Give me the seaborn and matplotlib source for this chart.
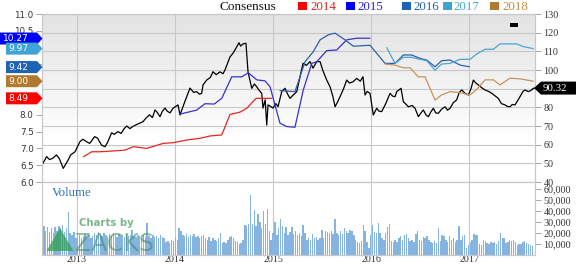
import numpy as np
import pandas as pd
import matplotlib
matplotlib.use('Agg')
import matplotlib.pyplot as plt
import seaborn as sns
from matplotlib.patches import Polygon, Rectangle

# ---------------- data ----------------
years = [2013, 2014, 2015, 2016, 2017]

price_t = [2012.643, 2012.69, 2012.72, 2012.755, 2012.79, 2012.82, 2012.86, 2012.91, 2012.935, 2012.98,
           2013.03, 2013.06, 2013.10, 2013.13, 2013.18, 2013.21, 2013.25, 2013.285, 2013.31, 2013.354,
           2013.38, 2013.418, 2013.45, 2013.48, 2013.507, 2013.54, 2013.571, 2013.61, 2013.673, 2013.70,
           2013.74, 2013.77, 2013.796, 2013.82, 2013.847, 2013.87, 2013.898, 2013.92, 2013.949, 2013.98,
           2014.031, 2014.051, 2014.10, 2014.153, 2014.19, 2014.221, 2014.25, 2014.272, 2014.286, 2014.323,
           2014.36, 2014.388, 2014.42, 2014.459, 2014.49, 2014.51, 2014.561, 2014.592, 2014.62, 2014.653,
           2014.67, 2014.694, 2014.724, 2014.745, 2014.783, 2014.81, 2014.834, 2014.86, 2014.885, 2014.898,
           2014.92, 2014.936, 2014.949, 2014.975, 2015.0, 2015.03, 2015.051, 2015.089, 2015.122, 2015.15,
           2015.173, 2015.21, 2015.242, 2015.306, 2015.34, 2015.378, 2015.408, 2015.446, 2015.48, 2015.51,
           2015.548, 2015.582, 2015.61, 2015.633, 2015.66, 2015.684, 2015.72, 2015.752, 2015.78, 2015.816,
           2015.854, 2015.89, 2015.918, 2015.939, 2015.96, 2015.99, 2016.023, 2016.058, 2016.08, 2016.109,
           2016.15, 2016.194, 2016.22, 2016.245, 2016.262, 2016.306, 2016.33, 2016.36, 2016.38, 2016.42,
           2016.449, 2016.483, 2016.51, 2016.534, 2016.56, 2016.585, 2016.61, 2016.636, 2016.66, 2016.687,
           2016.72, 2016.755, 2016.78, 2016.806, 2016.84, 2016.874, 2016.90, 2016.926, 2016.96, 2016.993,
           2017.02, 2017.044, 2017.07, 2017.095, 2017.13, 2017.163, 2017.2, 2017.232, 2017.27, 2017.299,
           2017.33, 2017.367, 2017.39, 2017.418, 2017.44, 2017.469, 2017.50, 2017.52, 2017.55, 2017.571,
           2017.605, 2017.63, 2017.656, 2017.673]
price_v = [49.1, 53.6, 52.0, 52.8, 54.5, 52.5, 47.3, 51.8, 54.5, 56.2,
           61.6, 62.9, 61.5, 60.7, 64.3, 63.5, 59.8, 58.9, 61.0, 66.4,
           65.5, 67.0, 66.0, 68.5, 70.0, 68.6, 69.8, 70.8, 72.3, 74.0,
           76.0, 74.5, 78.6, 77.2, 75.0, 77.8, 79.6, 78.0, 77.0, 79.5,
           81.3, 75.9, 83.0, 90.3, 88.0, 88.4, 87.0, 87.5, 92.0, 94.6,
           96.0, 99.1, 97.5, 99.0, 98.0, 100.0, 107.0, 109.0, 111.5, 114.6,
           112.8, 114.0, 114.3, 99.0, 90.2, 92.5, 91.0, 89.0, 87.5, 79.6,
           84.0, 70.5, 81.3, 80.5, 79.6, 82.0, 80.3, 88.4, 90.2, 87.0,
           84.8, 86.8, 88.4, 103.6, 102.5, 104.5, 101.0, 104.5, 104.5, 99.5,
           94.6, 91.0, 86.0, 80.3, 83.0, 85.7, 90.0, 94.6, 93.0, 93.7,
           95.5, 94.0, 96.4, 86.6, 88.5, 87.5, 75.9, 79.5, 78.0, 77.7,
           82.0, 87.5, 86.0, 85.7, 88.4, 90.2, 83.0, 81.5, 80.3, 81.0,
           79.5, 75.0, 77.0, 78.6, 76.0, 75.0, 77.5, 79.5, 77.0, 76.8,
           79.0, 80.3, 78.5, 79.5, 82.5, 84.0, 88.0, 89.3, 87.5, 86.6,
           90.0, 94.6, 93.0, 92.0, 90.5, 89.3, 88.5, 87.5, 86.0, 84.8,
           82.0, 81.3, 80.5, 80.3, 81.5, 81.3, 84.0, 85.7, 88.5, 89.3,
           88.4, 89.0, 90.2, 90.32]

eps2014_t = [2013.064, 2013.15, 2013.235, 2013.405, 2013.49, 2013.574, 2013.711, 2013.881, 2013.983,
             2014.119, 2014.255, 2014.357, 2014.477, 2014.561, 2014.663, 2014.731, 2014.827, 2014.987]
eps2014_v = [6.75, 6.90, 6.90, 6.93, 6.95, 7.05, 7.00, 7.15, 7.17,
             7.25, 7.30, 7.37, 7.40, 8.01, 8.08, 8.19, 8.49, 8.49]

eps2015_t = [2014.051, 2014.221, 2014.306, 2014.40, 2014.477, 2014.579, 2014.681, 2014.748, 2014.834,
             2014.918, 2014.969, 2015.071, 2015.14, 2015.224, 2015.309, 2015.395, 2015.446, 2015.548,
             2015.65, 2015.752, 2015.854, 2015.99]
eps2015_v = [8.02, 8.14, 8.33, 8.32, 8.49, 9.13, 9.13, 9.25, 9.04,
             9.01, 8.84, 7.75, 7.65, 7.63, 8.74, 9.53, 9.58, 9.91,
             9.93, 10.23, 10.28, 10.28]

eps2016_t = [2015.071, 2015.224, 2015.327, 2015.411, 2015.48, 2015.564, 2015.633, 2015.735, 2015.82,
             2015.99, 2016.143, 2016.245, 2016.33, 2016.415, 2016.5, 2016.568, 2016.653, 2016.72,
             2016.806, 2016.908, 2017.003]
eps2016_v = [8.72, 8.69, 9.58, 9.88, 10.23, 10.38, 10.43, 10.23, 10.04,
             10.07, 9.53, 9.53, 9.78, 9.78, 9.68, 9.63, 9.43, 9.61,
             9.63, 9.48, 9.43]

eps2017_t = [2016.16, 2016.245, 2016.33, 2016.415, 2016.5, 2016.568, 2016.653, 2016.72, 2016.806,
             2016.908, 2017.01, 2017.079, 2017.163, 2017.248, 2017.316, 2017.486, 2017.554, 2017.656]
eps2017_v = [10.0, 9.53, 9.71, 9.71, 9.65, 9.61, 9.33, 9.51, 9.53,
             9.65, 9.65, 9.81, 9.95, 9.95, 10.11, 10.11, 10.03, 9.97]

eps2018_t = [2016.143, 2016.245, 2016.33, 2016.398, 2016.483, 2016.551, 2016.653, 2016.72, 2016.806,
             2016.908, 2017.01, 2017.079, 2017.163, 2017.248, 2017.316, 2017.418, 2017.52, 2017.656]
eps2018_v = [9.51, 9.48, 9.40, 9.40, 9.13, 9.13, 8.44, 8.59, 8.69,
             8.66, 8.59, 8.76, 9.04, 9.04, 8.89, 9.09, 9.07, 9.00]

volume = [60, 26, 22, 25, 21, 24, 20, 25, 22, 26, 24, 27, 21, 24, 39, 20, 18, 21, 15, 16,
          18, 15, 17, 19, 16, 18, 15, 17, 20, 18, 21, 19, 17, 20, 18, 16, 19, 17, 20, 18,
          16, 19, 17, 18, 16, 19, 17, 18, 23, 17, 16, 18, 17, 15, 18, 16, 29, 17, 15, 18,
          16, 17, 15, 18, 16, 15, 12, 13, 11, 14, 13, 15, 14, 24, 22, 18, 17, 19, 16, 18,
          17, 19, 16, 17, 15, 17, 18, 15, 14, 16, 13, 15, 14, 13, 15, 20, 11, 12, 11, 14,
          16, 17, 15, 13, 12, 10, 11, 14, 27, 26, 28, 54, 28, 41, 26, 37, 30, 24, 40, 28,
          42, 22, 14, 20, 30, 18, 24, 33, 26, 20, 25, 18, 21, 25, 19, 22, 18, 20, 17, 27,
          20, 14, 15, 14, 19, 15, 16, 14, 15, 23, 15, 22, 21, 20, 22, 19, 33, 20, 18, 22,
          19, 24, 22, 20, 23, 22, 18, 14, 12, 11, 13, 27, 22, 12, 6, 18, 27, 21, 20, 29,
          20, 15, 14, 20, 25, 28, 13, 12, 14, 12, 15, 17, 14, 18, 19, 15, 13, 14, 12, 19,
          22, 14, 13, 16, 15, 17, 14, 12, 11, 13, 11, 24, 13, 18, 17, 14, 12, 17, 14, 15,
          12, 14, 26, 14, 17, 18, 6, 9, 12, 14, 19, 18, 18, 10, 9, 14, 13, 11, 10, 12,
          11, 12, 10, 13, 20, 15, 15, 11, 12, 14, 13, 14, 12, 9, 10, 10, 12, 13, 11, 10,
          9, 8]  # thousands, weekly

vol_start = 2012.643
vol_t = [vol_start + i * 7 / 365.25 for i in range(len(volume))]

tag_values = [10.27, 9.97, 9.42, 9.00, 8.49]
tag_colors = ['#0000ff', '#3fa3d4', '#1f63b5', '#b27a2e', '#ff0000']
last_price = 90.32

legend_labels = ['2014', '2015', '2016', '2017', '2018']
legend_colors = ['#ff0000', '#0000ff', '#1f63b5', '#3fa3d4', '#b27a2e']
legend_text_colors = ['#e02020', '#2020d0', '#2060b0', '#40a8d8', '#c08a40']
line_colors = ['#e8261f', '#3333cc', '#2d60aa', '#4aa5d2', '#c4955a']

# ---------------- figure ----------------
sns.set_theme(style='white')
plt.rcParams['font.family'] = ['DejaVu Sans']
SERIF = ['Liberation Serif', 'DejaVu Serif']

W, H = 576, 264
fig = plt.figure(figsize=(5.76, 2.64), dpi=100)
fig.patch.set_facecolor('white')


def fx(px):
    return px / W


def fy(py):
    return 1 - py / H


X0, X1 = 2012.643, 2017.673
GRID = '#c8c8c8'

ax_p = fig.add_axes([fx(42), fy(182), fx(535) - fx(42), fy(14) - fy(182)])
ax_v = fig.add_axes([fx(42), fy(255), fx(535) - fx(42), fy(182) - fy(255)])

# gradient background
n = 100
frac = np.linspace(0, 1, n)  # 0 top -> 1 bottom
shade = np.clip(frac / 0.75, 0, 1)
top = np.array([0.89, 0.89, 0.89])
bot = np.array([1.0, 1.0, 1.0])
grad = top[None, :] * (1 - shade[:, None]) + bot[None, :] * shade[:, None]
grad = np.repeat(grad[:, None, :], 2, axis=1)
ax_p.imshow(grad, extent=[X0, X1, 40, 130], aspect='auto', origin='upper', zorder=0)

sns.lineplot(x=price_t, y=price_v, ax=ax_p, color='black', lw=0.9, estimator=None, sort=False)
ax_p.set_xlim(X0, X1)
ax_p.set_ylim(40, 130)

ax_e = ax_p.twinx()
series = [(eps2014_t, eps2014_v), (eps2015_t, eps2015_v), (eps2016_t, eps2016_v),
          (eps2017_t, eps2017_v), (eps2018_t, eps2018_v)]
for (t, v), c in zip(series, line_colors):
    sns.lineplot(x=t, y=v, ax=ax_e, color=c, lw=0.9, estimator=None, sort=False)
ax_e.set_ylim(6, 11)
ax_e.set_xlim(X0, X1)

# ticks on price axes
ax_p.yaxis.tick_right()
ax_p.set_yticks(range(40, 131, 10))
ax_p.set_yticklabels([str(v) for v in range(40, 131, 10)], fontfamily=SERIF, fontsize=7.3, color='#333333')
ax_p.tick_params(axis='y', right=True, left=False, length=4, width=0.6, color='#999999', pad=2)
ax_p.set_xticks(years)
ax_p.tick_params(axis='x', length=0, labelbottom=False)
ax_p.grid(True, color=GRID, lw=0.8)
ax_p.set_axisbelow(True)
ax_p.set_ylabel('')

ax_e.yaxis.tick_left()
eticks = np.arange(6.0, 11.01, 0.5)
ax_e.set_yticks(eticks)
ax_e.set_yticklabels([f'{v:.1f}' for v in eticks], fontsize=6.3, color='#333333')
ax_e.tick_params(axis='y', left=True, right=False, length=4, width=0.6, color='#999999', pad=2)
ax_e.tick_params(axis='x', length=0, labelbottom=False)
ax_e.set_ylabel('')
for a in (ax_p, ax_e):
    for s in a.spines.values():
        s.set_color(GRID)
        s.set_linewidth(0.8)

# volume
vol_df = pd.DataFrame({'t': vol_t, 'vol': [v * 1000 for v in volume]})
sns.barplot(data=vol_df, x='t', y='vol', ax=ax_v, native_scale=True, color='#86b4e0',
            saturation=1, width=0.75, errorbar=None, linewidth=0)
ax_v.set_xlim(X0, X1)
ax_v.set_ylim(0, 66000)
ax_v.yaxis.tick_right()
vt = [10000, 20000, 30000, 40000, 50000, 60000]
ax_v.set_yticks(vt)
ax_v.set_yticklabels([f'{v:,}' for v in vt], fontfamily=SERIF, fontsize=7.3, color='#333333')
ax_v.tick_params(axis='y', right=True, left=False, length=4, width=0.6, color='#999999', pad=2)
ax_v.set_xticks(years)
ax_v.set_xticklabels([str(y) for y in years], fontfamily=SERIF, fontsize=7.2, color='#333333')
ax_v.tick_params(axis='x', length=0, pad=0.3)
ax_v.grid(True, axis='x', color=GRID, lw=0.8)
ax_v.set_axisbelow(True)
ax_v.set_xlabel('')
ax_v.set_ylabel('')
ax_v.set_facecolor('white')
for s in ax_v.spines.values():
    s.set_color(GRID)
    s.set_linewidth(0.8)

fig.text(fx(52), fy(196), 'Volume', fontfamily=SERIF, fontsize=9.3, color='#3575b5')

# watermark
fig.add_artist(Polygon([(fx(60), fy(228)), (fx(46.5), fy(251)), (fx(73.5), fy(251))],
                       closed=True, transform=fig.transFigure, facecolor='#2f9e50', alpha=0.75,
                       edgecolor='none'))
fig.text(fx(79), fy(226), 'Charts by', fontsize=7.3, color='#4f9f62', alpha=0.75, fontweight='bold')
fig.text(fx(75), fy(251), 'ZACKS', fontsize=17, color='#3f8a5a', alpha=0.55)

# legend
fig.text(fx(219), fy(9.5), 'Consensus', fontfamily=SERIF, fontsize=9.5, color='#111111', va='baseline')
sq_x = [298, 346, 402, 443, 490]
tx_x = [310, 357, 413, 453, 502]
for sx, tx, lab, c, tc in zip(sq_x, tx_x, legend_labels, legend_colors, legend_text_colors):
    fig.add_artist(Rectangle((fx(sx), fy(10)), fx(9), 8 / H, transform=fig.transFigure,
                             facecolor=c, edgecolor='none'))
    fig.text(fx(tx), fy(9.5), lab, fontfamily=SERIF, fontsize=9.3, color=tc, va='baseline')

# small marker
fig.add_artist(Rectangle((fx(510), fy(27)), fx(8), 4 / H, transform=fig.transFigure,
                         facecolor='black', edgecolor='none'))

# value tags (positions from the axes' own scales)
Te = ax_e.transData + fig.transFigure.inverted()
for v, c in zip(tag_values, tag_colors):
    yf = Te.transform((X0, v))[1]
    py = (1 - yf) * H
    x0 = 0 if v == tag_values[0] else 6
    pts = [(fx(x0), fy(py - 6)), (fx(37), fy(py - 6)), (fx(42.5), fy(py)),
           (fx(37), fy(py + 6)), (fx(x0), fy(py + 6))]
    fig.add_artist(Polygon(pts, closed=True, transform=fig.transFigure, facecolor=c, edgecolor='none'))
    fig.text(fx(x0 + 2.5), yf, f'{v:.2f}', fontsize=6.5, color='white', va='center', ha='left')

Tp = ax_p.transData + fig.transFigure.inverted()
yf = Tp.transform((X1, last_price))[1]
py = (1 - yf) * H
pts = [(fx(534), fy(py)), (fx(541), fy(py - 6.5)), (fx(576), fy(py - 6.5)),
       (fx(576), fy(py + 6.5)), (fx(541), fy(py + 6.5))]
fig.add_artist(Polygon(pts, closed=True, transform=fig.transFigure, facecolor='black', edgecolor='none'))
fig.text(fx(543), yf, f'{last_price:.2f}', fontfamily=SERIF, fontsize=7.8, color='white', va='center')

fig.savefig('out.png', dpi=100)
